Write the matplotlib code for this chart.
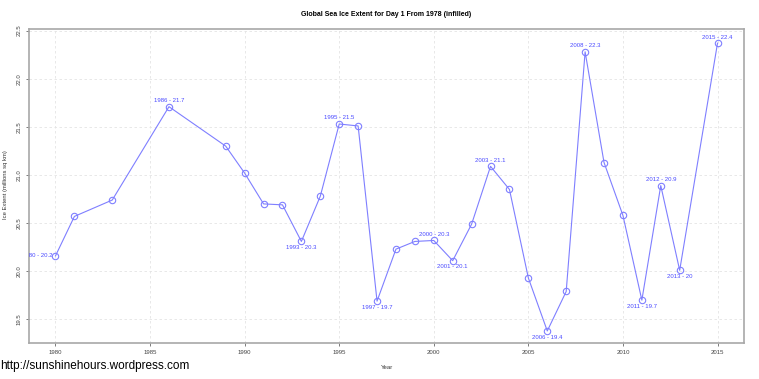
import matplotlib
matplotlib.use("Agg")
import matplotlib.pyplot as plt
from matplotlib.transforms import offset_copy

years = [1980, 1981, 1983, 1986, 1989, 1990, 1991, 1992, 1993, 1994, 1995, 1996,
         1997, 1998, 1999, 2000, 2001, 2002, 2003, 2004, 2005, 2006, 2007, 2008,
         2009, 2010, 2011, 2012, 2013, 2015]
extent = [20.16, 20.57, 20.74, 21.71, 21.30, 21.02, 20.70, 20.69, 20.31, 20.78,
          21.53, 21.51, 19.69, 20.23, 20.31, 20.32, 20.11, 20.49, 21.09, 20.85,
          19.93, 19.38, 19.79, 22.28, 21.13, 20.58, 19.70, 20.89, 20.01, 22.37]

# labelled points and where the label sits relative to the point
label_above = [1986, 1995, 2000, 2003, 2008, 2012, 2015]
label_below = [1993, 1997, 2001, 2006, 2011, 2013]
label_left = [1980]

xticks = [1980, 1985, 1990, 1995, 2000, 2005, 2010, 2015]
yticks = [19.5, 20.0, 20.5, 21.0, 21.5, 22.0, 22.5]

title = "Global Sea Ice Extent for Day 1 From 1978 (infilled)"
xlabel = "Year"
ylabel = "Ice Extent (millions sq km)"
credit = "http://sunshinehours.wordpress.com"

plt.rcParams['font.family'] = ['Liberation Sans', 'DejaVu Sans']

W, H = 759, 379
fig = plt.figure(figsize=(W/100, H/100), dpi=100)
ax = fig.add_axes([29/W, 1-342.7/H, (744-29)/W, (342.7-29)/H])

line_c = '#7f7fff'
text_c = '#4a4aff'
fs_small = 4.3

ax.plot(years, extent, color=line_c, lw=0.8, marker='o', ms=4.6,
        mfc='none', mec=line_c, mew=0.8, zorder=3)

def lab(y, v):
    return f"{y} - {round(v, 1):g}"

lookup = dict(zip(years, extent))
tr_up = offset_copy(ax.transData, fig=fig, x=0, y=4.4, units='points')
tr_dn = offset_copy(ax.transData, fig=fig, x=0, y=-4.4, units='points')
tr_lf = offset_copy(ax.transData, fig=fig, x=-2.4, y=0, units='points')
for y in label_above:
    ax.text(y, lookup[y], lab(y, lookup[y]), transform=tr_up, ha='center',
            va='center', fontsize=fs_small, color=text_c, clip_on=False)
for y in label_below:
    ax.text(y, lookup[y], lab(y, lookup[y]), transform=tr_dn, ha='center',
            va='center', fontsize=fs_small, color=text_c, clip_on=False)
for y in label_left:
    ax.text(y, lookup[y], lab(y, lookup[y]), transform=tr_lf, ha='right',
            va='center', fontsize=fs_small, color=text_c, clip_on=True)

ax.set_xlim(1978.6, 2016.4)
ax.set_ylim(19.258, 22.517)
ax.set_xticks(xticks)
ax.set_yticks(yticks)
ax.set_yticklabels([f"{v:.1f}" for v in yticks], rotation=90, va='center')
ax.tick_params(axis='both', labelsize=4.3, labelcolor='#444444', color='#666666',
               length=2.2, width=0.6, pad=3)
ax.grid(True, color='#e4e4e4', ls=(0, (3, 3)), lw=0.6)
ax.set_axisbelow(True)
for s in ax.spines.values():
    s.set_color('#a8a8a8')
    s.set_linewidth(1.2)

fig.text(5.7/W, 1-185/H, ylabel, rotation=90, ha='center', va='center',
         fontsize=4.2, color='#333333')
fig.text(386.5/W, 1-367.7/H, xlabel, ha='center', va='center',
         fontsize=4.3, color='#333333')
fig.text(386.5/W, 1-15/H, title, ha='center', va='center', fontsize=5.0,
         fontweight='bold')
fig.text(0.0, 1-365.7/H, credit, ha='left', va='center', fontsize=8.5,
         color='black')

fig.savefig("out.png", dpi=100)
